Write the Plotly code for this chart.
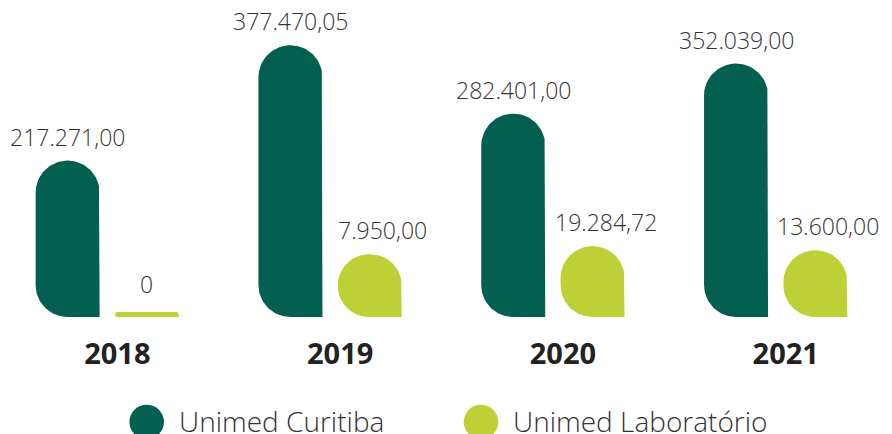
import numpy as np
import plotly.graph_objects as go

years = ["2018", "2019", "2020", "2021"]
curitiba = [217271.00, 377470.05, 282401.00, 352039.00]
laboratorio = [0, 7950.00, 19284.72, 13600.00]

DARK = "#035f50"
LIGHT = "#bdd137"

W, H = 892, 434
BOTTOM = 117                  # px below the baseline
PX_X = 222.8                  # px per group
PX_Y = 1 / 1388.9             # px per value unit
x_range = [-107.3 / PX_X, (W - 107.3) / PX_X]
y_range = [0, (H - BOTTOM) / PX_Y]

OFFSET = 0.178                # group centre -> bar centre
HALF_W = 32                   # bar half width, px
BUBBLE = 57                   # base size of the light drop, px
THIN = 5                      # height of a zero bar, px


def fmt(v):
    if v == 0:
        return "0"
    s = f"{v:,.2f}"
    return s.replace(",", "#").replace(".", ",").replace("#", ".")


def drop(xc, top):
    # rounded bar: top corners + bottom-left rounded, bottom-right square
    h_px = top * PX_Y
    r = min(HALF_W, h_px / 2)
    rx, ry = r / PX_X, r / PX_Y
    hw = HALF_W / PX_X
    x0, x1 = xc - hw, xc + hw
    xs, ys = [x1], [0]
    for cx, cy, a0, a1 in [(x1 - rx, top - ry, 0, 90),
                           (x0 + rx, top - ry, 90, 180),
                           (x0 + rx, ry, 180, 270)]:
        t = np.radians(np.linspace(a0, a1, 24))
        xs += list(cx + rx * np.cos(t))
        ys += list(cy + ry * np.sin(t))
    xs.append(x1)
    ys.append(0)
    return xs, ys


label_font = dict(family="Open Sans", size=23, color="#333333", weight=300)

fig = go.Figure()
annotations = []

for i, (c, l) in enumerate(zip(curitiba, laboratorio)):
    xc = i - OFFSET
    xs, ys = drop(xc, c)
    fig.add_trace(go.Scatter(x=xs, y=ys, fill="toself", fillcolor=DARK, mode="lines",
                             line=dict(width=0), hoverinfo="skip", showlegend=False))
    annotations.append(dict(x=xc, y=c, text=fmt(c), showarrow=False, yanchor="bottom",
                            yshift=6, font=label_font))

    xl = i + OFFSET
    top = l + BUBBLE / PX_Y if l > 0 else THIN / PX_Y
    xs, ys = drop(xl, top)
    fig.add_trace(go.Scatter(x=xs, y=ys, fill="toself", fillcolor=LIGHT, mode="lines",
                             line=dict(width=0), hoverinfo="skip", showlegend=False))
    annotations.append(dict(x=xl, y=top, text=fmt(l), showarrow=False, yanchor="bottom",
                            yshift=6 if l > 0 else 10, xshift=13 if l > 0 else 0,
                            font=label_font))

# legend drawn by hand (big round markers)
shapes = []
for px, col, name in [(146.7, DARK, "Unimed Curitiba"), (481, LIGHT, "Unimed Laboratório")]:
    py = (H - BOTTOM - 422) / (H - BOTTOM)
    shapes.append(dict(type="circle", xref="paper", yref="paper", xsizemode="pixel",
                       ysizemode="pixel", xanchor=px / W, yanchor=py,
                       x0=-17.3, x1=17.3, y0=-17.3, y1=17.3,
                       fillcolor=col, line=dict(width=0)))
    annotations.append(dict(x=(px + 30) / W, y=py, xref="paper", yref="paper",
                            text=name, showarrow=False, xanchor="left", yanchor="middle",
                            yshift=1,
                            font=dict(family="Open Sans", size=28, color="#333333", weight=300)))

fig.update_layout(
    width=W, height=H,
    margin=dict(l=0, r=0, t=0, b=BOTTOM),
    plot_bgcolor="white", paper_bgcolor="white",
    showlegend=False,
    annotations=annotations,
    shapes=shapes,
)
fig.update_xaxes(range=x_range, tickvals=[i + 0.045 for i in range(len(years))],
                 ticktext=years, showgrid=False, zeroline=False, showline=False,
                 ticks="", ticklabelstandoff=17,
                 tickfont=dict(family="Open Sans", size=29, color="#222222", weight="bold"))
fig.update_yaxes(range=y_range, visible=False)

fig.write_html("out.html", config={"displayModeBar": False},
               post_script="document.body.style.margin='0';")
